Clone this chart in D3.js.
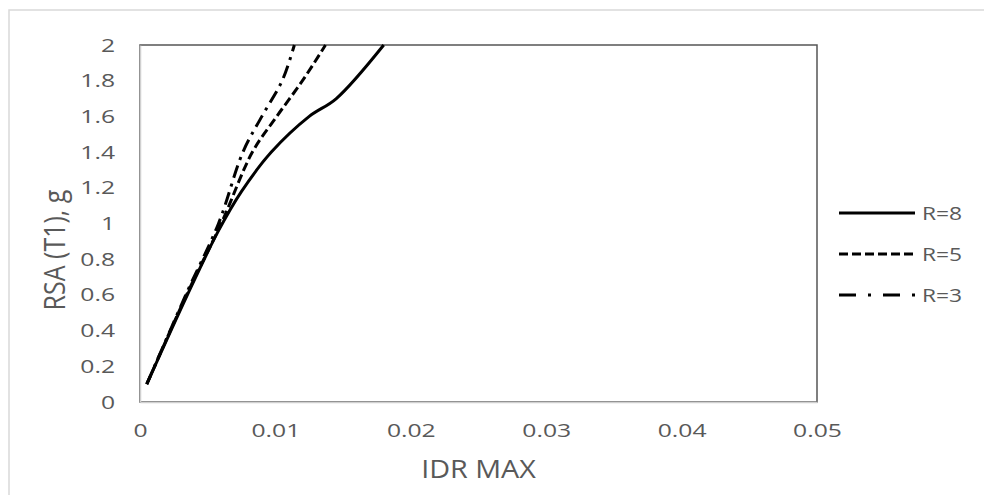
<!DOCTYPE html>
<html>
<head>
<meta charset="utf-8">
<script src="https://cdn.jsdelivr.net/npm/d3@7"></script>
<style>
  html, body { margin: 0; padding: 0; background: #fff; }
  text { font-family: "Open Sans", sans-serif; fill: #595959; }
</style>
</head>
<body>
<div id="chart"></div>
<script>
// Values (IDR MAX vs RSA(T1) in g)
const seriesNames = ["R=8", "R=5", "R=3"];
const idrR8 = [0.0005, 0.0035, 0.0058, 0.0075, 0.0097, 0.0125, 0.0145, 0.018];
const rsaR8 = [0.1, 0.6, 0.96, 1.18, 1.4, 1.6, 1.7, 2.0];
const idrR5 = [0.0005, 0.0035, 0.006, 0.0083, 0.0101, 0.012, 0.0137];
const rsaR5 = [0.1, 0.61, 1.0, 1.4, 1.6, 1.8, 2.0];
const idrR3 = [0.0005, 0.0035, 0.0058, 0.0076, 0.009, 0.0105, 0.0114];
const rsaR3 = [0.1, 0.62, 1.0, 1.4, 1.6, 1.8, 2.0];
const xTicks = [0, 0.01, 0.02, 0.03, 0.04, 0.05];
const yTicks = [0, 0.2, 0.4, 0.6, 0.8, 1, 1.2, 1.4, 1.6, 1.8, 2];

const width = 984, height = 495;
const margin = {top: 45, right: 167, bottom: 93, left: 140};

const svg = d3.select("#chart")
    .append("svg")
    .attr("width", width)
    .attr("height", height);

// outer chart border (only top and left show in the picture)
svg.append("path")
    .attr("d", "M9,495 V10 H984")
    .attr("fill", "none")
    .attr("stroke", "#d9d9d9")
    .attr("stroke-width", 1.5);

const x = d3.scaleLinear()
    .domain([0, 0.05])
    .range([margin.left, width - margin.right]);
const y = d3.scaleLinear()
    .domain([0, 2])
    .range([height - margin.bottom, margin.top]);

// plot area frame
svg.append("rect")
    .attr("x", x(0))
    .attr("y", y(2))
    .attr("width", x(0.05) - x(0))
    .attr("height", y(0) - y(2))
    .attr("fill", "none")
    .attr("stroke", "#555")
    .attr("stroke-width", 1.5);

// Y axis
const yAxis = svg.append("g")
    .attr("transform", `translate(${x(0)},0)`)
    .call(d3.axisLeft(y).tickValues(yTicks).tickSize(0).tickPadding(25)
        .tickFormat(d => String(+d.toFixed(1))));
yAxis.select(".domain").attr("stroke", "#d0d0d0").attr("stroke-width", 1.5);
yAxis.selectAll("text")
    .attr("font-size", 19)
    .attr("font-family", null)
    .attr("x", -25 / 1.3)
    .attr("transform", "scale(1.3,1)");

// X axis
const xAxis = svg.append("g")
    .attr("transform", `translate(0,${y(0)})`)
    .call(d3.axisBottom(x).tickValues(xTicks).tickSize(0).tickPadding(22)
        .tickFormat(d => String(+d.toFixed(2))));
xAxis.select(".domain").attr("stroke", "#d0d0d0").attr("stroke-width", 1.5);
xAxis.selectAll("text")
    .attr("font-size", 19)
    .attr("font-family", null)
    .attr("transform", "scale(1.3,1)");

// axis titles
svg.append("text")
    .attr("transform", `translate(${(x(0) + x(0.05)) / 2},478) scale(1.15,1)`)
    .attr("text-anchor", "middle")
    .attr("font-size", 25)
    .text("IDR MAX");

svg.append("text")
    .attr("transform", "translate(65,250) rotate(-90) scale(1,1.15)")
    .attr("text-anchor", "middle")
    .attr("font-size", 25)
    .text("RSA (T1), g");

// lines
const series = [
    {name: seriesNames[0], xs: idrR8, ys: rsaR8, dash: null, legendDash: null},
    {name: seriesNames[1], xs: idrR5, ys: rsaR5, dash: "9,4", legendDash: "9,4"},
    {name: seriesNames[2], xs: idrR3, ys: rsaR3, dash: "13,6,3,6", legendDash: "17,12,3,12"}
];

const line = d3.line()
    .x(d => x(d[0]))
    .y(d => y(d[1]))
    .curve(d3.curveCatmullRom.alpha(0.5));

series.forEach(s => {
    svg.append("path")
        .datum(s.xs.map((v, i) => [v, s.ys[i]]))
        .attr("fill", "none")
        .attr("stroke", "#000")
        .attr("stroke-width", 3)
        .attr("stroke-dasharray", s.dash)
        .attr("d", line);
});

// legend
const legend = svg.append("g");
series.forEach((s, i) => {
    const ly = 213 + i * 41;
    legend.append("line")
        .attr("x1", 839).attr("x2", 915)
        .attr("y1", ly).attr("y2", ly)
        .attr("stroke", "#000")
        .attr("stroke-width", 3)
        .attr("stroke-dasharray", s.legendDash);
    legend.append("text")
        .attr("transform", `translate(922,${ly + 7}) scale(1.2,1)`)
        .attr("font-size", 19)
        .text(s.name);
});
</script>
</body>
</html>
